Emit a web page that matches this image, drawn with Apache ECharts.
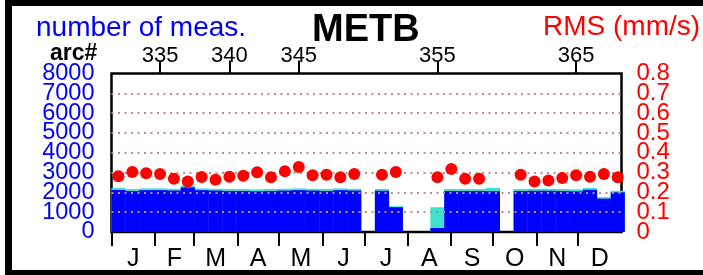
<!DOCTYPE html>
<html>
<head>
<meta charset="utf-8">
<script src="https://cdn.jsdelivr.net/npm/echarts@6/dist/echarts.min.js"></script>
<style>
  html, body { margin: 0; padding: 0; background: #fff; }
  #chart { width: 703px; height: 275px; }
</style>
</head>
<body>
<div id="chart"></div>
<script>
// arc numbers (one bar / dot per arc)
var arcs = [332, 333, 334, 335, 336, 337, 338, 339, 340, 341, 342, 343, 344, 345, 346, 347, 348, 349, 350,
  351, 352, 353, 354, 355, 356, 357, 358, 359, 360, 361, 362, 363, 364, 365, 366, 367, 368]
// all measurements per arc (cyan)
var totalMeas = [2220, 2170, 2200, 2200, 2180, 2340, 2200, 2180, 2170, 2170, 2150, 2170, 2180, 2200, 2180, 2170, 2200, 2180, 0,
  2170, 1300, 0, 0, 1250, 2170, 2170, 2170, 2230, 0, 2170, 2180, 2180, 2170, 2150, 2220, 1760, 2080]
// used measurements per arc (blue)
var usedMeas = [2120, 2070, 2110, 2110, 2090, 2250, 2110, 2090, 2070, 2070, 2050, 2070, 2090, 2110, 2090, 2070, 2110, 2090, 0,
  2080, 1250, 0, 0, 200, 2070, 2070, 2070, 2060, 0, 2070, 2080, 2080, 2070, 2050, 2130, 1680, 2000]
// RMS per arc in mm/s (null = no value)
var rms = [0.281, 0.303, 0.296, 0.293, 0.269, 0.255, 0.278, 0.264, 0.279, 0.284, 0.301, 0.276, 0.306, 0.328, 0.286, 0.289, 0.276, 0.293, null,
  0.289, 0.303, null, null, 0.276, 0.318, 0.269, 0.269, null, null, 0.289, 0.255, 0.260, 0.272, 0.286, 0.279, 0.293, 0.276]

var arcTicks = [335, 340, 345, 355, 365]
// labels split in two sets so the tightly packed labels are not dropped as overlapping
var measTicksEven = [0, 2000, 4000, 6000, 8000]
var measTicksOdd = [1000, 3000, 5000, 7000]
var rmsTicksEven = [0, 0.2, 0.4, 0.6, 0.8]
var rmsTicksOdd = [0.1, 0.3, 0.5, 0.7]
var monthStarts = [0, 31, 59, 90, 120, 151, 181, 212, 243, 273, 304, 334]
var monthMids = [15.5, 45, 74.5, 105, 135.5, 166, 196.5, 227.5, 258, 288.5, 319, 349.5]
var monthLetters = ['J', 'F', 'M', 'A', 'M', 'J', 'J', 'A', 'S', 'O', 'N', 'D']

var arcMin = 331.5
var arcMax = 368.27
var font = 'Liberation Sans'

function measAxis(ticks, withGrid) {
  return {
    type: 'value',
    min: 0,
    max: 8000,
    interval: 1000,
    position: 'left',
    z: 3,
    axisLine: { show: false },
    axisTick: { show: false },
    axisLabel: {
      customValues: ticks,
      color: '#0000ff', fontFamily: font, fontSize: 23.5, margin: 17,
      showMinLabel: true, showMaxLabel: true, hideOverlap: false,
      formatter: function (v) { return String(v) }
    },
    splitLine: {
      show: withGrid, showMinLine: false, showMaxLine: false,
      lineStyle: { color: '#b89090', width: 2, type: [2, 4.5] }
    }
  }
}

function rmsAxis(ticks) {
  return {
    type: 'value',
    min: 0,
    max: 0.8,
    interval: 0.1,
    position: 'right',
    axisLine: { show: false },
    axisTick: { show: false },
    splitLine: { show: false },
    axisLabel: {
      customValues: ticks,
      color: '#ff0000', fontFamily: font, fontSize: 24, margin: 15,
      showMinLabel: true, showMaxLabel: true, hideOverlap: false,
      formatter: function (v) { return v === 0 ? '0' : v.toFixed(1) }
    }
  }
}

var chart = echarts.init(document.getElementById('chart'), null, { renderer: 'canvas' })

var option = {
  animation: false,
  backgroundColor: '#fff',
  title: {
    text: 'METB',
    left: 307,
    top: 7,
    textStyle: { fontFamily: font, fontSize: 38, fontWeight: 'bold', color: '#000' }
  },
  graphic: [
    // outer frame
    {
      type: 'rect',
      shape: { x: 8.5, y: 2.5, width: 800, height: 271 },
      style: { fill: 'none', stroke: '#000', lineWidth: 7 },
      silent: true
    },
    {
      type: 'text', x: 36, y: 28,
      style: { text: 'number of meas.', fill: '#0000ff', font: '28px "Liberation Sans"', textVerticalAlign: 'middle' }
    },
    {
      type: 'text', x: 543, y: 27,
      style: { text: 'RMS (mm/s)', fill: '#ff0000', font: '28px "Liberation Sans"', textVerticalAlign: 'middle' }
    },
    {
      type: 'text', x: 50, y: 54,
      style: { text: 'arc#', fill: '#000', font: 'bold 23px "Liberation Sans"', textVerticalAlign: 'middle' }
    }
  ],
  grid: {
    left: 111.5,
    top: 73.5,
    width: 510,
    height: 158.5,
    show: true,
    borderColor: '#000',
    borderWidth: 2.5
  },
  xAxis: [
    {
      // arc axis used by the series (hidden)
      type: 'value',
      position: 'top',
      min: arcMin,
      max: arcMax,
      show: false
    },
    {
      // day of year axis (bottom, months)
      type: 'value',
      position: 'bottom',
      min: 0,
      max: 365,
      axisLine: { show: false, onZero: false },
      splitLine: { show: false },
      axisTick: {
        show: true, customValues: monthStarts, length: 14, inside: false,
        lineStyle: { color: '#000', width: 2 }
      },
      axisLabel: {
        customValues: monthMids, margin: 15, color: '#000',
        fontFamily: font, fontSize: 25, hideOverlap: false,
        formatter: function (v) {
          var i = monthMids.indexOf(v)
          return i >= 0 ? monthLetters[i] : ''
        }
      }
    },
    {
      // arc number ticks and labels (top)
      type: 'value',
      position: 'top',
      min: arcMin,
      max: arcMax,
      axisLine: { show: false, onZero: false },
      splitLine: { show: false },
      axisTick: {
        show: true, customValues: arcTicks, length: 13, inside: false,
        lineStyle: { color: '#000', width: 2 }
      },
      axisLabel: {
        customValues: arcTicks, margin: 7, color: '#000',
        fontFamily: font, fontSize: 22
      }
    }
  ],
  yAxis: [
    measAxis(measTicksEven, true),
    rmsAxis(rmsTicksEven),
    measAxis(measTicksOdd, false),
    rmsAxis(rmsTicksOdd)
  ],
  series: [
    {
      name: 'all',
      type: 'bar',
      xAxisIndex: 0,
      yAxisIndex: 0,
      barWidth: 14.2,
      barGap: '-100%',
      itemStyle: { color: '#40e0d0' },
      data: arcs.map(function (a, i) { return [a, totalMeas[i]] })
    },
    {
      name: 'used',
      type: 'bar',
      xAxisIndex: 0,
      yAxisIndex: 0,
      barWidth: 14.2,
      barGap: '-100%',
      itemStyle: { color: '#0000ff' },
      data: arcs.map(function (a, i) { return [a, usedMeas[i]] })
    },
    {
      name: 'RMS',
      type: 'scatter',
      xAxisIndex: 0,
      yAxisIndex: 1,
      z: 5,
      symbol: 'circle',
      symbolSize: 12,
      itemStyle: { color: '#ff0000', opacity: 1 },
      data: arcs.map(function (a, i) { return rms[i] == null ? [a, '-'] : [a, rms[i]] })
    }
  ]
}

chart.setOption(option)
</script>
</body>
</html>
